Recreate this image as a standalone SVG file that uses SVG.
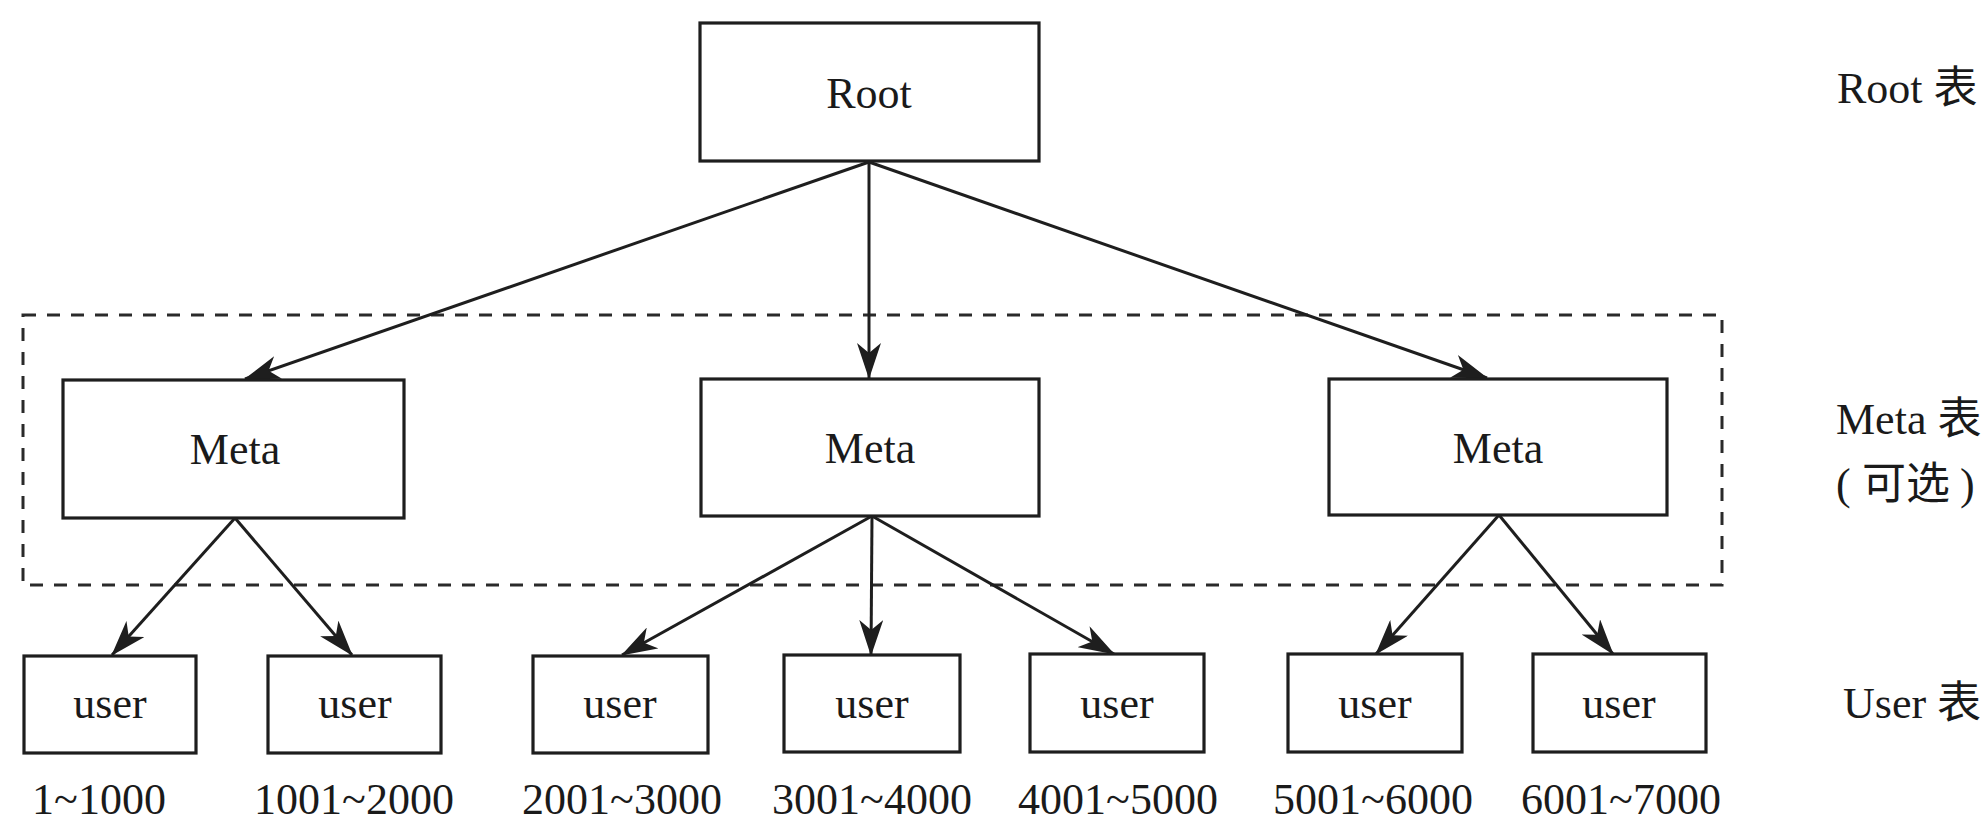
<svg xmlns="http://www.w3.org/2000/svg" width="1986" height="824" viewBox="0 0 1986 824">
  <style>
    .box { fill: #ffffff; stroke: #1e1e1e; stroke-width: 3.2; }
    .lbl { font-family: "Liberation Serif", "Noto Sans CJK SC", serif; font-size: 44px; fill: #1a1a1a; }
    .mid { text-anchor: middle; }
    .edge { stroke: #1e1e1e; stroke-width: 3; fill: none; marker-end: url(#arrow); }
    .group { fill: none; stroke: #2a2a2a; stroke-width: 3; stroke-dasharray: 13 11; }
  </style>
  <defs>
    <marker id="arrow" viewBox="0 0 36 24" markerWidth="36" markerHeight="24" refX="35" refY="12" orient="auto" markerUnits="userSpaceOnUse">
      <path d="M36,12 L0,0 L10,12 L0,24 Z" fill="#1e1e1e"/>
    </marker>
  </defs>
  <rect width="1986" height="824" fill="#ffffff"/>

  <!-- optional Meta layer boundary -->
  <rect id="meta-layer" class="group" x="23" y="315" width="1699" height="270"/>

  <!-- connectors -->
  <g id="connectors">
    <line class="edge" x1="869" y1="162" x2="245" y2="379"/>
    <line class="edge" x1="869" y1="162" x2="869" y2="378"/>
    <line class="edge" x1="869" y1="162" x2="1487" y2="378"/>
    <line class="edge" x1="235" y1="518" x2="112" y2="655"/>
    <line class="edge" x1="235" y1="518" x2="352" y2="655"/>
    <line class="edge" x1="872" y1="516" x2="622" y2="655"/>
    <line class="edge" x1="872" y1="516" x2="871" y2="655"/>
    <line class="edge" x1="872" y1="516" x2="1114" y2="654"/>
    <line class="edge" x1="1499" y1="515" x2="1376" y2="654"/>
    <line class="edge" x1="1499" y1="515" x2="1613" y2="654"/>
  </g>

  <!-- root table -->
  <g id="root">
    <rect class="box" x="700" y="23" width="339" height="138"/>
    <text class="lbl mid" x="869" y="108">Root</text>
  </g>

  <!-- meta tables -->
  <g id="meta-1">
    <rect class="box" x="63" y="380" width="341" height="138"/>
    <text class="lbl mid" x="235" y="464">Meta</text>
  </g>
  <g id="meta-2">
    <rect class="box" x="701" y="379" width="338" height="137"/>
    <text class="lbl mid" x="870" y="463">Meta</text>
  </g>
  <g id="meta-3">
    <rect class="box" x="1329" y="379" width="338" height="136"/>
    <text class="lbl mid" x="1498" y="463">Meta</text>
  </g>

  <!-- user tables with id ranges -->
  <g id="user-1">
    <rect class="box" x="24" y="656" width="172" height="97"/>
    <text class="lbl mid" x="110" y="718">user</text>
    <text class="lbl mid" x="99" y="814">1~1000</text>
  </g>
  <g id="user-2">
    <rect class="box" x="268" y="656" width="173" height="97"/>
    <text class="lbl mid" x="355" y="718">user</text>
    <text class="lbl mid" x="354" y="814">1001~2000</text>
  </g>
  <g id="user-3">
    <rect class="box" x="533" y="656" width="175" height="97"/>
    <text class="lbl mid" x="620" y="718">user</text>
    <text class="lbl mid" x="622" y="814">2001~3000</text>
  </g>
  <g id="user-4">
    <rect class="box" x="784" y="655" width="176" height="97"/>
    <text class="lbl mid" x="872" y="718">user</text>
    <text class="lbl mid" x="872" y="814">3001~4000</text>
  </g>
  <g id="user-5">
    <rect class="box" x="1030" y="654" width="174" height="98"/>
    <text class="lbl mid" x="1117" y="718">user</text>
    <text class="lbl mid" x="1118" y="814">4001~5000</text>
  </g>
  <g id="user-6">
    <rect class="box" x="1288" y="654" width="174" height="98"/>
    <text class="lbl mid" x="1375" y="718">user</text>
    <text class="lbl mid" x="1373" y="814">5001~6000</text>
  </g>
  <g id="user-7">
    <rect class="box" x="1533" y="654" width="173" height="98"/>
    <text class="lbl mid" x="1619" y="718">user</text>
    <text class="lbl mid" x="1621" y="814">6001~7000</text>
  </g>

  <!-- layer captions -->
  <g id="captions">
    <text class="lbl" x="1837" y="103">Root 表</text>
    <text class="lbl" x="1836" y="434">Meta 表</text>
    <text class="lbl" y="499"><tspan x="1836">(</tspan><tspan x="1862">可选</tspan><tspan x="1960">)</tspan></text>
    <text class="lbl" x="1843" y="718">User 表</text>
  </g>
</svg>
